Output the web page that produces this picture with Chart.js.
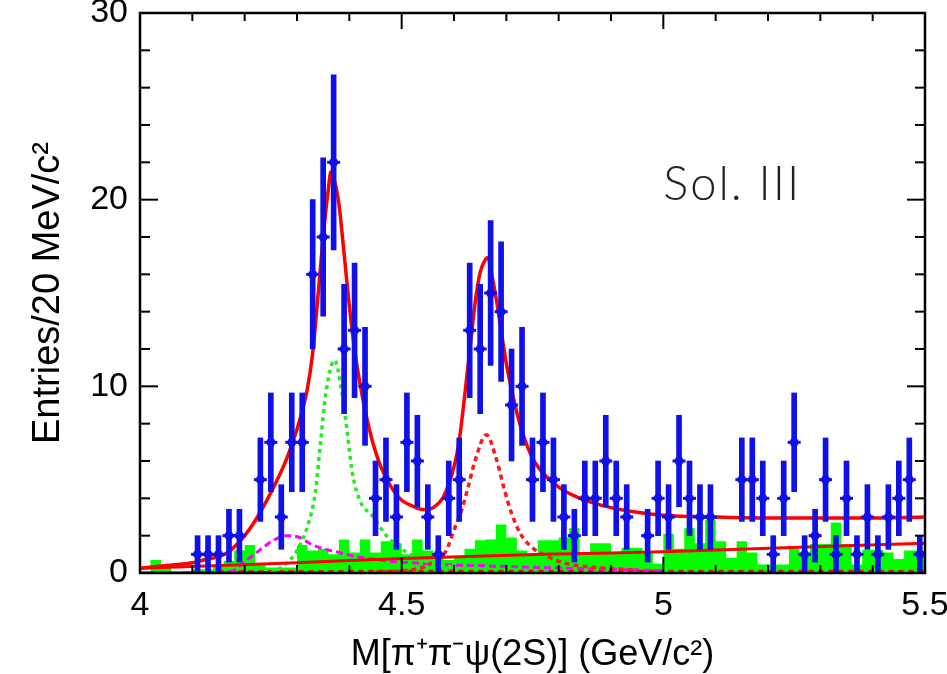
<!DOCTYPE html>
<html>
<head>
<meta charset="utf-8">
<script src="https://cdn.jsdelivr.net/npm/chart.js@4"></script>
<style>
  body { margin: 0; background: #fff; }
  #wrap { width: 947px; height: 674px; }
</style>
</head>
<body>
<div id="wrap"><canvas id="massChart"></canvas></div>
<script>
// binning of the mass spectrum, GeV/c^2
const binStart = 4.0;
const binWidth = 0.02;

// events per 20 MeV bin (blue points)
const counts = [0, 0, 0, 0, 0, 1, 1, 1, 2, 2,
                0, 5, 7, 3, 7, 7, 16, 18, 22, 12,
                13, 10, 4, 5, 3, 7, 6, 3, 1, 4,
                5, 13, 12, 15, 14, 9, 10, 5, 7, 5,
                3, 2, 4, 4, 6, 4, 3, 0, 2, 4,
                3, 6, 4, 3, 3, 0, 0, 5, 5, 4,
                1, 4, 7, 1, 2, 5, 1, 4, 1, 3,
                1, 3, 4, 5, 1];

// normalised sideband background (green histogram)
const sideband = [0, 0, 0.7, 0.4, 0, 0.1, 0.2, 0.2, 0.4, 0.65,
                  1.2, 1.5, 0.5, 0.3, 0.3, 0.3, 1.5, 1.2, 1.3, 1.0,
                  1.8, 1.1, 1.8, 1.1, 1.7, 1.6, 1.0, 1.8, 1.2, 0.9,
                  0.7, 0.8, 1.3, 1.75, 1.8, 2.6, 1.9, 1.2, 1.0, 1.75,
                  1.75, 1.9, 2.4, 1.1, 1.6, 1.6, 1.1, 1.35, 1.35, 1.1,
                  0.5, 2.1, 1.3, 2.4, 1.6, 2.85, 1.7, 0.8, 1.7, 1.1,
                  0.45, 0.45, 0.45, 1.3, 1.1, 1.55, 1.55, 2.7, 1.55, 0.45,
                  1.25, 1.25, 1.1, 0.75, 1.2];

// total fit (solid red)
const fitX = [4.00, 4.05, 4.10, 4.12, 4.15, 4.17, 4.20, 4.22, 4.25, 4.28, 4.30, 4.32, 4.33, 4.34, 4.35,
              4.36, 4.365, 4.37, 4.38, 4.39, 4.40, 4.41, 4.42, 4.44, 4.46, 4.48, 4.50, 4.52, 4.54, 4.55,
              4.56, 4.58, 4.60, 4.61, 4.62, 4.63, 4.64, 4.65, 4.66, 4.665, 4.67, 4.68, 4.69, 4.70, 4.72,
              4.74, 4.76, 4.80, 4.85, 4.90, 4.95, 5.00, 5.10, 5.20, 5.30, 5.40, 5.50];
const fitY = [0.25, 0.4, 0.55, 0.68, 0.88, 1.15, 2.0, 2.8, 4.3, 6.1, 7.7, 9.9, 11.8, 14.8, 18.0,
              20.6, 21.5, 21.2, 19.8, 17.1, 14.3, 12.0, 10.2, 7.5, 5.7, 4.6, 3.9, 3.6, 3.4, 3.4,
              3.5, 4.1, 5.7, 7.1, 9.4, 11.9, 14.4, 16.1, 16.8, 16.9, 16.3, 14.8, 13.0, 11.2, 8.6,
              6.8, 5.7, 4.6, 3.9, 3.5, 3.25, 3.1, 3.0, 2.95, 2.95, 2.95, 3.0];

// non-resonant background (lower solid red)
const bkgX = [4.0, 4.3, 4.5, 4.77, 5.0, 5.5];
const bkgY = [0.25, 0.55, 0.78, 1.0, 1.14, 1.6];

// first resonance (green dotted)
const res1X = [4.25, 4.27, 4.29, 4.30, 4.32, 4.335, 4.345, 4.355, 4.372, 4.385, 4.395, 4.405, 4.42,
               4.446, 4.468, 4.49, 4.51, 4.54, 4.57, 4.60];
const res1Y = [0, 0.3, 0.8, 1.2, 2.5, 4.3, 7.0, 9.6, 11.4, 9.8, 7.8, 5.5, 3.9,
               3.0, 2.1, 1.5, 1.1, 0.7, 0.45, 0.3];

// second resonance (red dotted)
const res2X = [4.45, 4.50, 4.54, 4.567, 4.585, 4.60, 4.615, 4.627, 4.64, 4.662, 4.682, 4.695, 4.71,
               4.727, 4.75, 4.777, 4.815, 4.87, 4.95];
const res2Y = [0.05, 0.12, 0.3, 0.7, 1.2, 2.3, 3.4, 4.6, 6.0, 7.4, 6.0, 4.6, 3.2,
               2.1, 1.35, 0.9, 0.5, 0.3, 0.15];

// interference term (magenta dashed)
const interX = [4.15, 4.18, 4.20, 4.23, 4.255, 4.28, 4.305, 4.33, 4.357, 4.38, 4.41, 4.447, 4.485,
                4.52, 4.57, 4.64, 4.76, 4.90, 5.00];
const interY = [0, 0.15, 0.6, 1.25, 1.75, 2.0, 1.9, 1.5, 1.25, 1.1, 0.9, 0.75, 0.6,
                0.55, 0.45, 0.4, 0.3, 0.2, 0.12];

// small components along the axis
const tailX = [4.15, 4.95, 5.5];
const tailY = [0.08, 0.1, 0.1];
const lowX = [4.0, 4.34];
const lowY = [0.02, 0.02];

const xTicks = [4, 4.5, 5, 5.5];
const yTicks = [0, 10, 20, 30];
const panelLabel = 'Sol. III';

const fontFamily = "'Liberation Sans', Arial, sans-serif";

const pts = (xs, ys) => xs.map((v, i) => ({ x: v, y: ys[i] }));

const histo = sideband.map((v, i) => ({ x: binStart + i * binWidth, y: v }));
histo.push({ x: binStart + sideband.length * binWidth, y: sideband[sideband.length - 1] });

const points = [];
const errors = [];
counts.forEach((n, i) => {
    if (n <= 0) return;
    const c = binStart + (i + 0.5) * binWidth;
    points.push({ x: c, y: n });
    errors.push({ x: c, y: [n - Math.sqrt(n), n + Math.sqrt(n)] });
});

const curve = (data, color, width, dash, order) => ({
    type: 'line',
    data: data,
    borderColor: color,
    borderWidth: width,
    borderDash: dash,
    pointRadius: 0,
    fill: false,
    cubicInterpolationMode: 'monotone',
    order: order
});

// frame with inward ticks + panel label
const framePlugin = {
    id: 'frame',
    afterDatasetsDraw(chart) {
        const { ctx, chartArea: a, scales: { x, y } } = chart;
        ctx.save();
        ctx.strokeStyle = '#000';
        ctx.lineWidth = 2;
        const seg = (x1, y1, x2, y2) => { ctx.beginPath(); ctx.moveTo(x1, y1); ctx.lineTo(x2, y2); ctx.stroke(); };
        for (let k = 0; k <= 15; k++) {
            const py = y.getPixelForValue(k * 2);
            const len = (k * 2) % 10 === 0 ? 18 : 10;
            seg(a.left, py, a.left + len, py);
            seg(a.right, py, a.right - len, py);
        }
        for (let k = 0; k <= 15; k++) {
            const px = x.getPixelForValue(4 + k * 0.1);
            const len = k % 5 === 0 ? 16 : 8;
            seg(px, a.bottom, px, a.bottom - len);
            seg(px, a.top, px, a.top + len);
        }
        ctx.lineWidth = 2.5;
        ctx.strokeRect(a.left, a.top, a.right - a.left, a.bottom - a.top);

        ctx.fillStyle = '#222';
        ctx.font = "300 47px Lato, 'DejaVu Sans', sans-serif";
        ctx.letterSpacing = '2px';
        ctx.textAlign = 'left';
        ctx.textBaseline = 'alphabetic';
        ctx.fillText(panelLabel, x.getPixelForValue(5.0), y.getPixelForValue(20));
        ctx.restore();
    }
};

const ctx = document.getElementById('massChart').getContext('2d');
new Chart(ctx, {
    type: 'line',
    data: {
        datasets: [
            {
                type: 'line',
                data: points,
                showLine: false,
                pointStyle: 'circle',
                pointRadius: 4.5,
                pointBackgroundColor: '#1010e8',
                pointBorderColor: '#1010e8',
                pointBorderWidth: 0,
                order: 0
            },
            {
                type: 'line',
                data: points,
                showLine: false,
                pointStyle: 'line',
                pointRadius: 6.5,
                pointBorderColor: '#1010e8',
                pointBorderWidth: 3,
                order: 0
            },
            {
                type: 'bar',
                data: errors,
                backgroundColor: '#1010e8',
                borderWidth: 0,
                barThickness: 5,
                grouped: false,
                order: 1
            },
            curve(pts(fitX, fitY), '#ff0000', 3.5, [], 3),
            curve(pts(bkgX, bkgY), '#ff0000', 3, [], 4),
            curve(pts(res1X, res1Y), '#22ee22', 3.5, [4, 4], 4),
            curve(pts(res2X, res2Y), '#ff1a1a', 3.5, [5, 4], 4),
            curve(pts(interX, interY), '#ff00ff', 3, [7, 4], 4),
            curve(pts(tailX, tailY), '#ff0000', 3, [5, 5], 5),
            curve(pts(lowX, lowY), '#1010e8', 2.5, [], 5),
            {
                type: 'line',
                data: histo,
                stepped: 'after',
                borderWidth: 0,
                borderColor: 'rgba(0,0,0,0)',
                backgroundColor: '#00ff00',
                fill: 'origin',
                pointRadius: 0,
                order: 10
            }
        ]
    },
    options: {
        responsive: true,
        maintainAspectRatio: false,
        animation: false,
        layout: { padding: { left: 0, right: 22, top: 13, bottom: 0 } },
        plugins: {
            legend: { display: false },
            tooltip: { enabled: false }
        },
        scales: {
            x: {
                type: 'linear',
                min: 4,
                max: 5.5,
                offset: false,
                afterBuildTicks: s => { s.ticks = xTicks.map(v => ({ value: v })); },
                afterFit: s => { s.height = 101; s.paddingLeft = 0; s.paddingRight = 0; },
                grid: { display: false, drawTicks: false, offset: false },
                border: { display: false },
                ticks: {
                    color: '#000',
                    padding: 12,
                    maxRotation: 0,
                    font: { family: fontFamily, size: 34 },
                    callback: v => String(v)
                },
                title: {
                    display: true,
                    text: 'M[π⁺π⁻ψ(2S)] (GeV/c²)',
                    color: '#000',
                    font: { family: fontFamily, size: 36, lineHeight: 1.0 },
                    padding: { top: 0, bottom: 1 }
                }
            },
            y: {
                type: 'linear',
                min: 0,
                max: 30,
                afterBuildTicks: s => { s.ticks = yTicks.map(v => ({ value: v })); },
                afterFit: s => { s.width = 140; s.paddingTop = 0; s.paddingBottom = 0; },
                grid: { display: false, drawTicks: false },
                border: { display: false },
                ticks: {
                    color: '#000',
                    padding: 12,
                    font: { family: fontFamily, size: 34 }
                },
                title: {
                    display: true,
                    text: 'Entries/20 MeV/c²',
                    color: '#000',
                    font: { family: fontFamily, size: 38, lineHeight: 1.0 },
                    padding: { top: 30, bottom: 0 }
                }
            }
        }
    },
    plugins: [framePlugin]
});
</script>
</body>
</html>
